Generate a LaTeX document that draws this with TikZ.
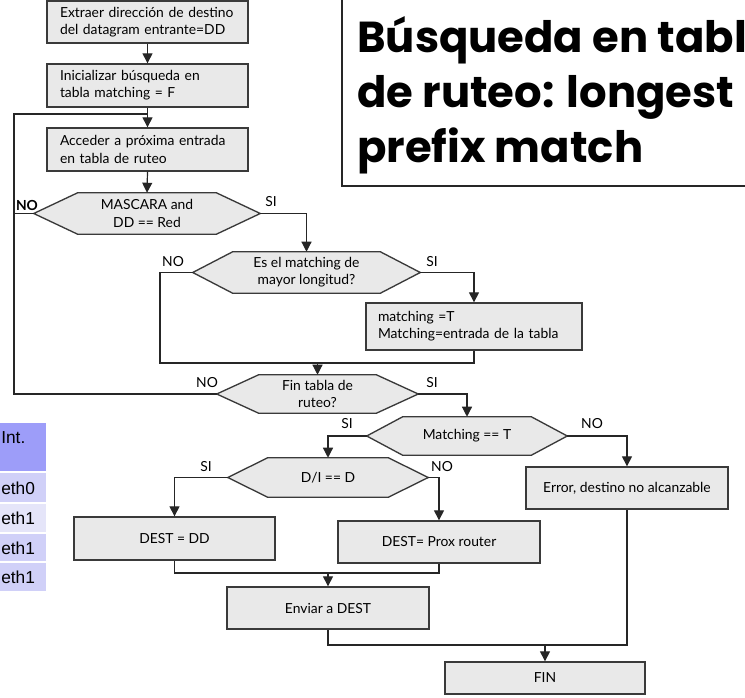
\documentclass[tikz,border=0pt]{standalone}
\usepackage{fontspec}
\setmainfont{Lato}
\newfontfamily\titlefont{Poppins}
\newfontfamily\tabfont{Liberation Sans}
\usetikzlibrary{arrows.meta,backgrounds,calc}
\definecolor{boxfill}{HTML}{E9E9E9}
\definecolor{boxline}{HTML}{3A3A3A}
\definecolor{hdr}{HTML}{9D9DF9}
\definecolor{rowa}{HTML}{D0D0F8}
\definecolor{rowb}{HTML}{E5E5F9}
\newcommand{\hexdraw}[2]{\draw[hexline] (#1.west) -- ([xshift=#2*0.75pt]#1.north west) -- ([xshift=-#2*0.75pt]#1.north east) -- (#1.east) -- ([xshift=-#2*0.75pt]#1.south east) -- ([xshift=#2*0.75pt]#1.south west) -- cycle;}
\begin{document}
\begin{tikzpicture}[x=0.75pt,y=-0.75pt,
  font=\fontsize{10.4}{12.9}\selectfont,
  box/.style 2 args={draw=boxline, fill=boxfill, line width=1pt, minimum width=#1*0.75pt, minimum height=#2*0.75pt, inner sep=0pt, align=center},
  hexnode/.style 2 args={minimum width=#1*0.75pt, minimum height=#2*0.75pt, inner sep=0pt, align=center},
  hexline/.style={draw=boxline, fill=boxfill, line width=1pt},
  conn/.style={line width=0.9pt, draw=black!85},
  arr/.style={conn, -{Triangle[length=7.5pt,width=7.5pt]}},
  lab/.style={inner sep=0pt},
  cell/.style={inner sep=0pt, anchor=west, font=\tabfont\fontsize{13}{15}\selectfont}]
\useasboundingbox (0,0) rectangle (745,698);

% title
\begin{scope}
\clip (0,0) rectangle (745,698);
\draw[line width=0.8pt, black!85] (342,-5) rectangle (760,186);
\node[inner sep=0pt, anchor=base west, font=\titlefont\bfseries\fontsize{32.5}{40}\selectfont] (t1) at (357,53) {Búsqueda en tabl};
\node[inner sep=0pt, anchor=base west, font=\titlefont\bfseries\fontsize{32.5}{40}\selectfont] (t2) at (357,108) {de ruteo: longest};
\node[inner sep=0pt, anchor=base west, font=\titlefont\bfseries\fontsize{32.5}{40}\selectfont] (t3) at (357,163) {prefix match};
\end{scope}

% table
\fill[hdr] (0,423) rectangle (46,471);
\fill[rowa] (0,473) rectangle (46,502);
\fill[rowb] (0,504) rectangle (46,532);
\fill[rowa] (0,534) rectangle (46,561);
\fill[rowa] (0,563) rectangle (46,591);
\node[cell] (c0) at (1,438) {Int.};
\node[cell] (c1) at (1,488) {eth0};
\node[cell] (c2) at (1,518) {eth1};
\node[cell] (c3) at (1,548) {eth1};
\node[cell] (c4) at (1,577) {eth1};

% boxes
\node[box={201}{42}, text width=131.25pt, align=left] (b1) at (147.5,22) {Extraer dirección de destino\\del datagram entrante=DD};
\node[box={201}{43}, text width=131.25pt, align=left] (b2) at (147.5,85.5) {Inicializar búsqueda en\\tabla matching = F};
\node[box={201}{43}, text width=131.25pt, align=left] (b3) at (147.5,149.5) {Acceder a próxima entrada\\en tabla de ruteo};
\node[box={216}{47}, text width=144pt, align=left] (b4) at (474,326.5) {matching =T\\Matching=entrada de la tabla};
\node[box={202}{42}] (err) at (627,488) {Error, destino no alcanzable};
\node[box={201}{43}] (dd) at (174.5,538.5) {DEST = DD};
\node[box={202}{42}] (prox) at (439,542) {DEST= Prox router};
\node[box={202}{42}] (env) at (328,608) {Enviar a DEST};
\node[box={200}{32}] (fin) at (545,678) {FIN};

% decisions
\node[hexnode={226}{41}] (d1) at (147,213.5) {MASCARA and\\DD == Red};
\node[hexnode={227}{41}] (d2) at (306.5,272.5) {Es el matching de\\mayor longitud?};
\node[hexnode={201}{38}] (d3) at (317.5,394) {Fin tabla de\\ruteo?};
\node[hexnode={200}{38}] (d4) at (467,436) {Matching == T};
\node[hexnode={200}{39}] (d5) at (328,477.5) {D/I == D};
\begin{pgfonlayer}{background}
\hexdraw{d1}{44}
\hexdraw{d2}{40}
\hexdraw{d3}{42}
\hexdraw{d4}{36}
\hexdraw{d5}{40}
\end{pgfonlayer}

% coordinates
\coordinate (lx) at (14,114);
\coordinate (lpj) at (147.5,114);
\coordinate (nol) at (160,363);
\coordinate (j1) at (328,573);
\coordinate (j2) at (545,645);

% connectors
\draw[arr] (b1.south) -- (b2.north);
\draw[arr] (b2.south) -- (b3.north);
\draw[arr] (b3.south) -- (d1.north);
\draw[conn] (d3.west) -| (lx) -- (lpj);
\draw[conn] (d1.west) -- (d1.west -| lx);
\draw[arr] (d1.east) -| (d2.north);
\draw[arr] (d2.east) -| (b4.north);
\draw[conn] (d2.west) -| (nol) -| (b4.south);
\draw[arr] (d3.north |- nol) -- (d3.north);
\draw[arr] (d3.east) -| (d4.north);
\draw[arr] (d4.west) -| (d5.north);
\draw[arr] (d4.east) -| (err.north);
\draw[arr] (d5.west) -| (dd.north);
\draw[arr] (d5.east) -| (prox.north);
\draw[conn] (dd.south) |- (j1) -| (prox.south);
\draw[arr] (j1) -- (env.north);
\draw[conn] (env.south) |- (j2) -| (err.south);
\draw[arr] (j2) -- (fin.north);

% labels
\node[lab, font=\bfseries\fontsize{10.4}{12}\selectfont] (l1) at (27,205) {NO};
\node[lab] (l2) at (271,202) {SI};
\node[lab] (l3) at (173,262) {NO};
\node[lab] (l4) at (432,262) {SI};
\node[lab] (l5) at (207,383) {NO};
\node[lab] (l6) at (432,383) {SI};
\node[lab] (l7) at (347,424) {SI};
\node[lab] (l8) at (592,424) {NO};
\node[lab] (l9) at (206,467) {SI};
\node[lab] (l10) at (442,467) {NO};
\end{tikzpicture}
\end{document}
